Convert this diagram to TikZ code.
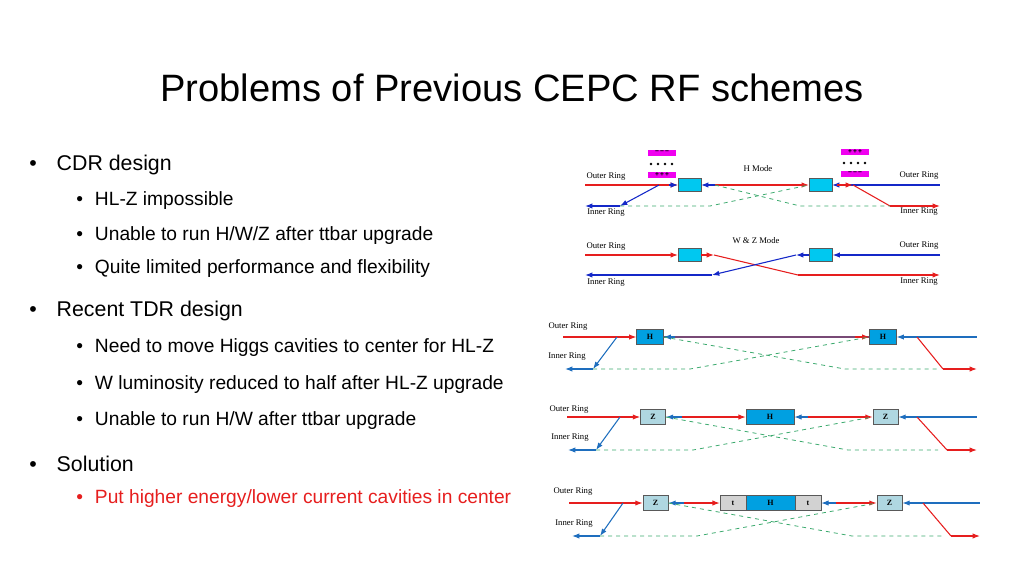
\documentclass[tikz,border=0pt]{standalone}
\usepackage{fontspec}
\setmainfont{Liberation Sans}
\newfontfamily\serifs{Liberation Serif}
\usetikzlibrary{arrows.meta}
\definecolor{rred}{RGB}{230,30,30}
\definecolor{dblue}{RGB}{20,40,200}
\definecolor{lblue}{RGB}{30,110,190}
\definecolor{cyanbox}{RGB}{0,200,240}
\definecolor{hbox}{RGB}{0,160,225}
\definecolor{zbox}{RGB}{175,215,225}
\definecolor{tbox}{RGB}{210,210,210}
\definecolor{gdash}{RGB}{60,170,110}
\definecolor{mag}{RGB}{240,0,240}
\begin{document}
\begin{tikzpicture}[x=0.75pt,y=-0.75pt,
  tip/.style={-{Latex[length=5.5pt,width=4pt]}},
  lbl/.style={font=\serifs\fontsize{6.5pt}{7pt}\selectfont,inner sep=0pt},
  cav/.style={draw=gray!70!black,line width=0.3pt,minimum height=9.5pt,inner sep=0pt,font=\serifs\bfseries\fontsize{6pt}{7pt}\selectfont},
  magb/.style={fill=mag,minimum width=21pt,minimum height=4.5pt,inner sep=0pt,font=\bfseries\fontsize{5pt}{4.5pt}\selectfont},
  dot/.style={circle,fill=black,inner sep=0pt,minimum size=2.2pt},
  gd/.style={gdash,dashed,line width=0.6pt},
  bul/.style={anchor=west,inner sep=0pt,font=\fontsize{16pt}{19pt}\selectfont},
  sbul/.style={anchor=west,inner sep=0pt,font=\fontsize{14.4pt}{17pt}\selectfont},
  r/.style={rred,line width=0.8pt},
  b/.style={dblue,line width=0.8pt},
  lb/.style={lblue,line width=0.8pt}]
\useasboundingbox (0,0) rectangle (1024,576);
\node[inner sep=0pt,font=\fontsize{28.6pt}{32pt}\selectfont] (title) at (512,88) {Problems of Previous CEPC RF schemes};
% bullets
\node[bul] (b1) at (29,165) {•\hspace{15pt}CDR design};
\node[sbul] (s1) at (76,201) {•\hspace{9pt}HL-Z impossible};
\node[sbul] (s2) at (76,236) {•\hspace{9pt}Unable to run H/W/Z after ttbar upgrade};
\node[sbul] (s3) at (76,269) {•\hspace{9pt}Quite limited performance and flexibility};
\node[bul] (b2) at (29,311) {•\hspace{15pt}Recent TDR design};
\node[sbul] (s4) at (76,348) {•\hspace{9pt}Need to move Higgs cavities to center for HL-Z};
\node[sbul] (s5) at (76,385) {•\hspace{9pt}W luminosity reduced to half after HL-Z upgrade};
\node[sbul] (s6) at (76,421) {•\hspace{9pt}Unable to run H/W after ttbar upgrade};
\node[bul] (b3) at (29,464) {•\hspace{15pt}Solution};
\node[sbul,text=rred] (s7) at (76,499) {•\hspace{9pt}Put higher energy/lower current cavities in center};

% ===== CDR H mode =====
\node[lbl] (o1l) at (606,177) {Outer Ring};
\node[lbl] (o1r) at (919,176) {Outer Ring};
\node[lbl] (i1l) at (606,213) {Inner Ring};
\node[lbl] (i1r) at (919,212) {Inner Ring};
\node[lbl] (hm) at (758,169) {H Mode};
\node[cav,fill=cyanbox,minimum width=17pt] (c1) at (689.5,185) {};
\node[cav,fill=cyanbox,minimum width=17pt] (c2) at (820.5,185) {};
\node[magb] (m1) at (662,152.5) {−\,−\,−};
\node[magb] (m2) at (662,174.5) {+\,+\,+};
\node[magb] (m3) at (855,151.5) {+\,+\,+};
\node[magb] (m4) at (855,173.5) {−\,−\,−};
\foreach \i/\xx in {1/651,2/658,3/665,4/672} {\node[dot] (dl\i) at (\xx,164) {};}
\foreach \i/\xx in {1/844,2/851,3/858,4/865} {\node[dot] (dr\i) at (\xx,163) {};}
\coordinate (j1) at (659,185); \coordinate (k1) at (620,206);
\coordinate (a1) at (585,185); \coordinate (a2) at (585,206);
\coordinate (j2) at (853,185); \coordinate (k2) at (890,206);
\coordinate (a3) at (940,185); \coordinate (a4) at (940,206);
\coordinate (e1) at (715,185); \coordinate (e2) at (837,185);
\draw[r] (a1) -- (j1);
\draw[r,tip] (j1) -- (c1.west);
\draw[b,tip] (c1.west) ++(-9,0) -- (c1.west);
\draw[b,tip] (j1) -- (k1);
\draw[b,tip] (k1) -- (a2);
\draw[b,tip] (e1) -- (c1.east);
\draw[r,tip] (e1) -- (c2.west);
\draw[b,tip] (j2) -- (c2.east);
\draw[r,tip] (e2) -- (j2);
\draw[b] (j2) -- (a3);
\draw[r] (j2) -- (k2);
\draw[r,tip] (k2) -- (a4);
\draw[gd] (e1) -- (800,206) -- (k2);
\draw[gd] (k1) -- (710,206) -- (c2.west);

% ===== CDR W & Z mode =====
\node[lbl] (o2l) at (606,247) {Outer Ring};
\node[lbl] (o2r) at (919,246) {Outer Ring};
\node[lbl] (i2l) at (606,283) {Inner Ring};
\node[lbl] (i2r) at (919,282) {Inner Ring};
\node[lbl] (wz) at (756,241) {W \& Z Mode};
\node[cav,fill=cyanbox,minimum width=17pt] (c3) at (689.5,255) {};
\node[cav,fill=cyanbox,minimum width=17pt] (c4) at (821,255) {};
\coordinate (f1) at (714,255); \coordinate (f2) at (798,275);
\coordinate (f3) at (796,255); \coordinate (f4) at (712,275);
\draw[r,tip] (585,255) -- (c3.west);
\draw[r,tip] (c3.east) -- (f1);
\draw[r] (f1) -- (f2);
\draw[r,tip] (f2) -- (940,275);
\draw[b,tip] (940,255) -- (c4.east);
\draw[b,tip] (c4.west) -- (f3);
\draw[b,tip] (f3) -- (f4);
\draw[b,tip] (f4) -- (585,275);

% ===== TDR section A =====
\node[lbl] (o3) at (568,327) {Outer Ring};
\node[lbl] (i3) at (567,357) {Inner Ring};
\node[cav,fill=hbox,minimum width=20pt,minimum height=11pt] (h1) at (650,337) {H};
\node[cav,fill=hbox,minimum width=20pt,minimum height=11pt] (h2) at (883,337) {H};
\coordinate (p1) at (617,337); \coordinate (q1) at (593,369);
\coordinate (p2) at (917,337); \coordinate (q2) at (943,369);
\draw[r] (563,337) -- (p1);
\draw[r,tip] (p1) -- (h1.west);
\draw[lb,tip] (p1) -- (q1);
\draw[lb,tip] (q1) -- (565,369);
\draw[line width=0.9pt,color=rred!45!lblue] (h1.east) -- (h2.west);
\draw[lb,tip] (675,337) -- (h1.east);
\draw[r,tip] (855,337) -- (h2.west);
\draw[lb,tip] (p2) -- (h2.east);
\draw[lb] (p2) -- (977,337);
\draw[r] (p2) -- (q2);
\draw[r,tip] (q2) -- (977,369);
\draw[gd] (q1) -- (690,369) -- (h2.west);
\draw[gd] (h1.east) -- (845,369) -- (938,369);

% ===== TDR section B =====
\node[lbl] (o4) at (569,410) {Outer Ring};
\node[lbl] (i4) at (570,438) {Inner Ring};
\node[cav,fill=zbox,minimum width=19pt,minimum height=11pt] (z1) at (653,417) {Z};
\node[cav,fill=hbox,minimum width=36pt,minimum height=11pt] (h3) at (770,417) {H};
\node[cav,fill=zbox,minimum width=19pt,minimum height=11pt] (z2) at (885.5,417) {Z};
\coordinate (p3) at (620,417); \coordinate (q3) at (596,450);
\coordinate (p4) at (917,417); \coordinate (q4) at (947,450);
\draw[r] (567,417) -- (p3);
\draw[r,tip] (p3) -- (z1.west);
\draw[lb,tip] (p3) -- (q3);
\draw[lb,tip] (q3) -- (568,450);
\draw[lb,tip] (682,417) -- (z1.east);
\draw[r,tip] (682,417) -- (h3.west);
\draw[lb,tip] (808,417) -- (h3.east);
\draw[r,tip] (808,417) -- (z2.west);
\draw[lb,tip] (p4) -- (z2.east);
\draw[lb] (p4) -- (977,417);
\draw[r] (p4) -- (q4);
\draw[r,tip] (q4) -- (977,450);
\draw[gd] (q3) -- (693,450) -- (z2.west);
\draw[gd] (z1.east) -- (848,450) -- (938,450);

% ===== TDR section C =====
\node[lbl] (o5) at (573,492) {Outer Ring};
\node[lbl] (i5) at (574,524) {Inner Ring};
\node[cav,fill=zbox,minimum width=19pt,minimum height=11pt] (z3) at (655.5,503) {Z};
\node[cav,fill=tbox,minimum width=19.5pt,minimum height=11pt] (t1) at (733,503) {t};
\node[cav,fill=hbox,minimum width=37pt,minimum height=11pt] (h4) at (770.5,503) {H};
\node[cav,fill=tbox,minimum width=19.5pt,minimum height=11pt] (t2) at (808,503) {t};
\node[cav,fill=zbox,minimum width=19pt,minimum height=11pt] (z4) at (889.5,503) {Z};
\coordinate (p5) at (623,503); \coordinate (q5) at (600,536);
\coordinate (p6) at (923,503); \coordinate (q6) at (951,536);
\draw[r] (569,503) -- (p5);
\draw[r,tip] (p5) -- (z3.west);
\draw[lb,tip] (p5) -- (q5);
\draw[lb,tip] (q5) -- (572,536);
\draw[lb,tip] (684,503) -- (z3.east);
\draw[r,tip] (684,503) -- (t1.west);
\draw[lb,tip] (836,503) -- (t2.east);
\draw[r,tip] (836,503) -- (z4.west);
\draw[lb,tip] (p6) -- (z4.east);
\draw[lb] (p6) -- (980,503);
\draw[r] (p6) -- (q6);
\draw[r,tip] (q6) -- (980,536);
\draw[gd] (q5) -- (697,536) -- (z4.west);
\draw[gd] (z3.east) -- (852,536) -- (942,536);
\end{tikzpicture}
\end{document}
